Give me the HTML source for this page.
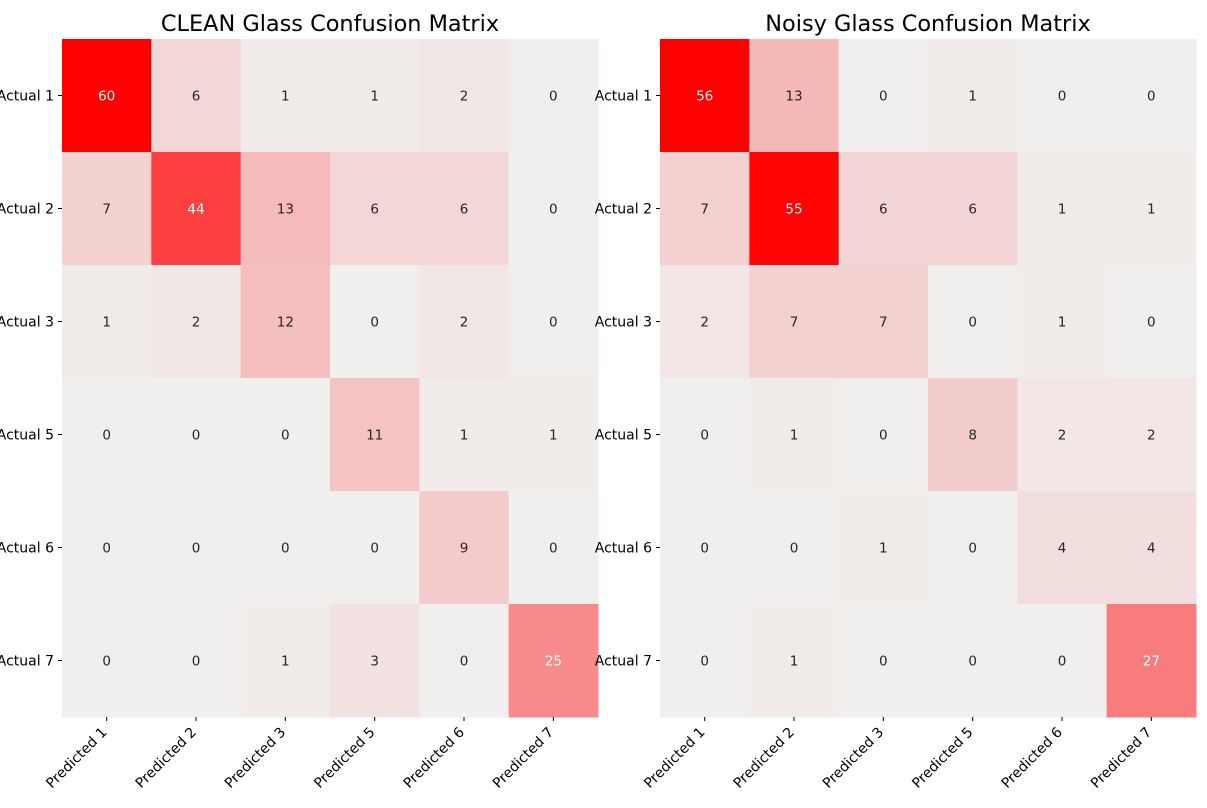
<!DOCTYPE html>
<html><head><meta charset="utf-8"><style>
html,body{margin:0;padding:0;background:#fff;}
svg{display:block;font-family:"DejaVu Sans","Liberation Sans",sans-serif;}
</style></head><body>
<svg id="c" width="1207" height="808"></svg>
<script>
const rowLabels = ["Actual 1","Actual 2","Actual 3","Actual 5","Actual 6","Actual 7"];
const colLabels = ["Predicted 1","Predicted 2","Predicted 3","Predicted 5","Predicted 6","Predicted 7"];
const cleanValues = [[60,6,1,1,2,0],[7,44,13,6,6,0],[1,2,12,0,2,0],[0,0,0,11,1,1],[0,0,0,0,9,0],[0,0,1,3,0,25]];
const noisyValues = [[56,13,0,1,0,0],[7,55,6,6,1,1],[2,7,7,0,1,0],[0,1,0,8,2,2],[0,0,1,0,4,4],[0,1,0,0,0,27]];
const titles = ["CLEAN Glass Confusion Matrix","Noisy Glass Confusion Matrix"];

const NS="http://www.w3.org/2000/svg";
const svg=document.getElementById('c');
function mk(tag,attrs,parent){const e=document.createElementNS(NS,tag);for(const k in attrs)e.setAttribute(k,attrs[k]);(parent||svg).appendChild(e);return e;}
function color(f){const lo=[241,239,238],hi=[255,0,0];return 'rgb('+lo.map((v,i)=>Math.round(v+(hi[i]-v)*f)).join(',')+')';}

function drawMatrix(vals,title,x0,name){
  const y0=39,W=536,H=678,cw=W/colLabels.length,ch=H/rowLabels.length;
  const g=mk('g',{});
  
  
  const max=Math.max(...vals.flat());
  vals.forEach((row,r)=>row.forEach((v,c)=>{
    const f=v/max;
    const rect=mk('rect',{x:x0+c*cw,y:y0+r*ch,width:cw+0.5,height:ch+0.5,fill:color(f)},g);
    
    
    const t=mk('text',{x:x0+c*cw+cw/2,y:y0+r*ch+ch/2+5,'text-anchor':'middle','font-size':13.5,fill:f>0.4?'#fff':'#262626'},g);
    t.textContent=v;
    
    
  }));
  rowLabels.forEach((l,r)=>{
    const y=y0+r*ch+ch/2;
    mk('line',{x1:x0-4,x2:x0,y1:y,y2:y,stroke:'#000','stroke-width':1},g);
    const t=mk('text',{x:x0-8,y:y+5,'text-anchor':'end','font-size':14,fill:'#000'},g);
    t.textContent=l;
    
    
  });
  colLabels.forEach((l,c)=>{
    const x=x0+c*cw+cw/2, y=y0+H;
    mk('line',{x1:x,x2:x,y1:y,y2:y+4,stroke:'#000','stroke-width':1},g);
    const tx=x+1, ty=y+16;
    const t=mk('text',{x:tx,y:ty,'text-anchor':'end','font-size':14,fill:'#000',transform:'rotate(-45 '+tx+' '+ty+')'},g);
    t.textContent=l;
    
    
  });
  const tt=mk('text',{x:x0+W/2,y:31,'text-anchor':'middle','font-size':22.4,fill:'#000'},g);
  tt.textContent=title;
  
  
}
drawMatrix(cleanValues,titles[0],62,'clean-confusion-matrix');
drawMatrix(noisyValues,titles[1],660,'noisy-confusion-matrix');
</script>
</body></html>
